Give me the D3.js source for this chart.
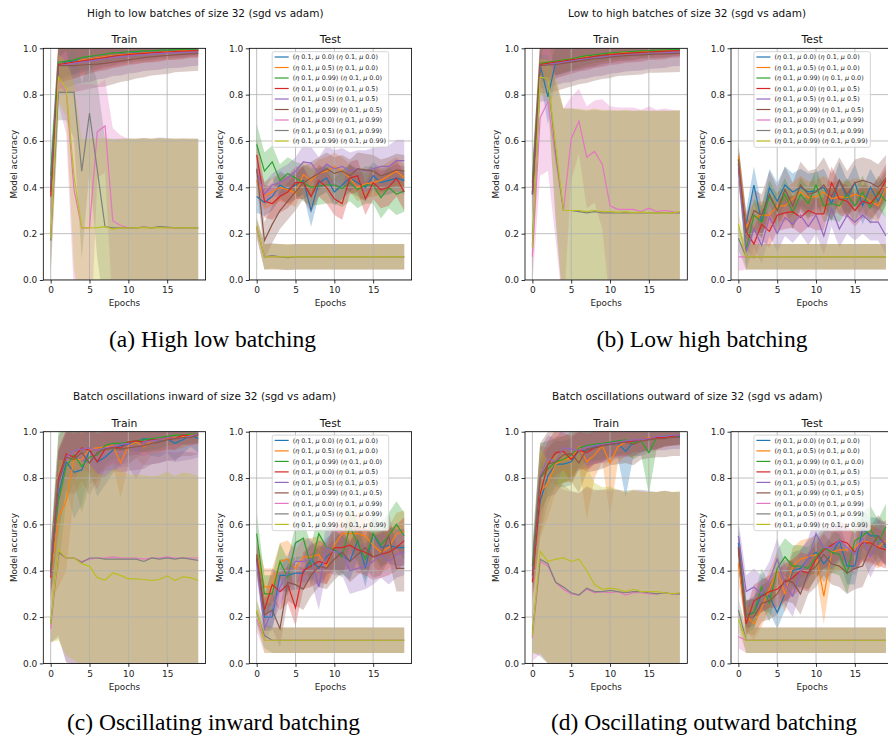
<!DOCTYPE html>
<html>
<head>
<meta charset="utf-8">
<script src="https://cdn.jsdelivr.net/npm/d3@7"></script>
<style>
  body { margin: 0; background: #fff; }
  text { font-family: "DejaVu Sans", sans-serif; }
</style>
</head>
<body>
<svg id="chart" width="888" height="738"></svg>
<script>
// ---- data ----
const epochs = [0,1,2,3,4,5,6,7,8,9,10,11,12,13,14,15,16,17,18,19];
const xTicks = [0, 5, 10, 15];
const yTicks = [0, 0.2, 0.4, 0.6, 0.8, 1.0];
const colors = ['#1f77b4','#ff7f0e','#2ca02c','#d62728','#9467bd','#8c564b','#e377c2','#7f7f7f','#bcbd22'];
const learningRate = '0.1';
const legendMomenta = [['0.0','0.0'],['0.5','0.0'],['0.99','0.0'],['0.0','0.5'],['0.5','0.5'],['0.99','0.5'],['0.0','0.99'],['0.5','0.99'],['0.99','0.99']];
const suptitles = ['High to low batches of size 32 (sgd vs adam)', 'Low to high batches of size 32 (sgd vs adam)',
  'Batch oscillations inward of size 32 (sgd vs adam)', 'Batch oscillations outward of size 32 (sgd vs adam)'];
const captions = ['(a) High low batching', '(b) Low high batching', '(c) Oscillating inward batching', '(d) Oscillating outward batching'];

// (a) high -> low
const hlTrainMean = [
  [0.40,0.93,0.94,0.945,0.95,0.955,0.96,0.965,0.97,0.975,0.978,0.98,0.982,0.984,0.986,0.988,0.99,0.99,0.992,0.993],
  [0.38,0.93,0.935,0.94,0.95,0.955,0.96,0.965,0.97,0.973,0.976,0.978,0.98,0.982,0.984,0.986,0.988,0.99,0.99,0.992],
  [0.45,0.94,0.945,0.95,0.96,0.965,0.97,0.975,0.98,0.982,0.985,0.987,0.989,0.99,0.992,0.993,0.994,0.995,0.996,0.997],
  [0.36,0.93,0.935,0.94,0.945,0.95,0.955,0.96,0.965,0.97,0.973,0.976,0.978,0.98,0.982,0.984,0.986,0.988,0.989,0.99],
  [0.40,0.925,0.93,0.935,0.94,0.945,0.95,0.955,0.96,0.963,0.966,0.97,0.972,0.975,0.977,0.979,0.98,0.982,0.983,0.985],
  [0.38,0.925,0.925,0.925,0.928,0.93,0.932,0.935,0.94,0.945,0.95,0.955,0.96,0.963,0.966,0.969,0.972,0.974,0.976,0.978],
  [0.20,0.86,0.81,0.39,0.225,0.225,0.64,0.665,0.255,0.235,0.225,0.225,0.228,0.225,0.228,0.225,0.225,0.226,0.225,0.225],
  [0.17,0.81,0.81,0.81,0.47,0.72,0.475,0.23,0.225,0.225,0.226,0.225,0.228,0.225,0.23,0.228,0.225,0.226,0.225,0.225],
  [0.18,0.875,0.825,0.45,0.225,0.225,0.226,0.23,0.22,0.225,0.225,0.225,0.226,0.225,0.226,0.225,0.225,0.225,0.225,0.225]
];
const hlTrainStd = [
  [0.08,0.07,0.065,0.06,0.055,0.05,0.05,0.045,0.045,0.04,0.04,0.035,0.035,0.035,0.03,0.03,0.03,0.03,0.025,0.025],
  [0.09,0.08,0.075,0.07,0.065,0.06,0.055,0.05,0.05,0.045,0.045,0.04,0.04,0.04,0.035,0.035,0.035,0.03,0.03,0.03],
  [0.1,0.07,0.065,0.06,0.055,0.05,0.045,0.04,0.035,0.035,0.03,0.03,0.03,0.025,0.025,0.025,0.02,0.02,0.02,0.02],
  [0.09,0.08,0.075,0.07,0.065,0.06,0.055,0.055,0.05,0.05,0.045,0.045,0.04,0.04,0.04,0.035,0.035,0.035,0.03,0.03],
  [0.1,0.1,0.1,0.095,0.09,0.09,0.085,0.085,0.08,0.08,0.075,0.075,0.07,0.07,0.07,0.065,0.065,0.065,0.06,0.06],
  [0.1,0.12,0.12,0.115,0.11,0.105,0.1,0.1,0.095,0.09,0.09,0.085,0.085,0.08,0.08,0.08,0.075,0.075,0.075,0.075],
  [0.15,0.1,0.18,0.45,0.62,0.62,0.2,0.2,0.4,0.39,0.385,0.385,0.385,0.385,0.385,0.385,0.385,0.385,0.385,0.385],
  [0.15,0.12,0.12,0.2,0.38,0.25,0.38,0.38,0.385,0.385,0.385,0.385,0.385,0.385,0.385,0.385,0.385,0.385,0.385,0.385],
  [0.15,0.1,0.12,0.4,0.385,0.385,0.385,0.385,0.385,0.385,0.385,0.385,0.385,0.385,0.385,0.385,0.385,0.385,0.385,0.385]
];
const hlTestMean = [
  [0.36,0.335,0.36,0.41,0.39,0.41,0.43,0.30,0.42,0.44,0.38,0.41,0.44,0.42,0.40,0.45,0.42,0.43,0.44,0.43],
  [0.43,0.365,0.38,0.40,0.39,0.375,0.455,0.43,0.46,0.47,0.49,0.47,0.44,0.40,0.415,0.42,0.43,0.45,0.47,0.44],
  [0.585,0.47,0.51,0.43,0.46,0.44,0.42,0.40,0.405,0.41,0.41,0.395,0.42,0.39,0.41,0.41,0.355,0.40,0.37,0.385],
  [0.54,0.34,0.33,0.36,0.38,0.42,0.42,0.36,0.43,0.40,0.35,0.33,0.44,0.45,0.35,0.42,0.39,0.40,0.44,0.38],
  [0.47,0.37,0.41,0.42,0.44,0.47,0.51,0.505,0.46,0.50,0.48,0.49,0.47,0.48,0.47,0.48,0.49,0.49,0.515,0.515],
  [0.48,0.17,0.24,0.30,0.34,0.38,0.42,0.44,0.46,0.48,0.46,0.47,0.45,0.48,0.475,0.47,0.45,0.46,0.475,0.47],
  [0.22,0.10,0.10,0.10,0.098,0.10,0.10,0.10,0.10,0.10,0.10,0.10,0.10,0.10,0.10,0.10,0.10,0.10,0.10,0.10],
  [0.23,0.10,0.105,0.10,0.097,0.10,0.10,0.10,0.10,0.10,0.10,0.10,0.10,0.10,0.10,0.10,0.10,0.10,0.10,0.10],
  [0.23,0.10,0.10,0.10,0.10,0.10,0.10,0.10,0.10,0.10,0.10,0.10,0.10,0.10,0.10,0.10,0.10,0.10,0.10,0.10]
];
const hlTestStd = [
  [0.07,0.06,0.06,0.06,0.06,0.06,0.06,0.07,0.06,0.06,0.06,0.06,0.06,0.06,0.06,0.06,0.06,0.06,0.06,0.06],
  [0.06,0.06,0.06,0.06,0.06,0.06,0.06,0.06,0.06,0.06,0.06,0.06,0.06,0.06,0.06,0.06,0.06,0.06,0.06,0.06],
  [0.09,0.08,0.07,0.07,0.07,0.07,0.08,0.08,0.08,0.08,0.08,0.08,0.08,0.08,0.08,0.08,0.09,0.09,0.09,0.09],
  [0.07,0.07,0.07,0.07,0.07,0.07,0.07,0.07,0.07,0.07,0.07,0.07,0.07,0.07,0.07,0.07,0.08,0.08,0.08,0.08],
  [0.05,0.05,0.05,0.06,0.06,0.06,0.07,0.07,0.07,0.08,0.08,0.08,0.08,0.08,0.09,0.09,0.09,0.09,0.09,0.09],
  [0.06,0.08,0.08,0.08,0.08,0.08,0.07,0.07,0.07,0.07,0.07,0.07,0.07,0.07,0.07,0.07,0.07,0.07,0.07,0.07],
  [0.04,0.055,0.055,0.055,0.055,0.055,0.055,0.055,0.055,0.055,0.055,0.055,0.055,0.055,0.055,0.055,0.055,0.055,0.055,0.055],
  [0.04,0.055,0.055,0.055,0.055,0.055,0.055,0.055,0.055,0.055,0.055,0.055,0.055,0.055,0.055,0.055,0.055,0.055,0.055,0.055],
  [0.04,0.055,0.055,0.055,0.055,0.055,0.055,0.055,0.055,0.055,0.055,0.055,0.055,0.055,0.055,0.055,0.055,0.055,0.055,0.055]
];

// (b) low -> high
const lhTrainMean = [
  [0.38,0.93,0.79,0.94,0.945,0.95,0.955,0.96,0.965,0.97,0.975,0.978,0.98,0.982,0.984,0.986,0.988,0.99,0.99,0.992],
  [0.40,0.935,0.94,0.945,0.95,0.955,0.96,0.965,0.97,0.975,0.978,0.98,0.982,0.984,0.986,0.988,0.99,0.99,0.992,0.993],
  [0.42,0.935,0.94,0.945,0.95,0.955,0.962,0.968,0.972,0.976,0.98,0.983,0.985,0.987,0.989,0.99,0.992,0.993,0.994,0.995],
  [0.37,0.93,0.935,0.94,0.945,0.95,0.955,0.96,0.965,0.97,0.973,0.976,0.978,0.98,0.982,0.984,0.986,0.988,0.989,0.99],
  [0.37,0.925,0.93,0.935,0.94,0.945,0.95,0.955,0.958,0.962,0.965,0.968,0.97,0.972,0.974,0.976,0.978,0.98,0.982,0.984],
  [0.37,0.925,0.928,0.93,0.935,0.94,0.945,0.95,0.955,0.958,0.962,0.965,0.968,0.97,0.972,0.974,0.975,0.976,0.977,0.978],
  [0.10,0.70,0.77,0.52,0.30,0.61,0.685,0.53,0.555,0.50,0.32,0.305,0.305,0.305,0.295,0.31,0.295,0.30,0.295,0.29],
  [0.15,0.87,0.87,0.55,0.30,0.30,0.295,0.29,0.295,0.29,0.29,0.29,0.29,0.29,0.29,0.29,0.29,0.29,0.29,0.29],
  [0.14,0.875,0.87,0.58,0.30,0.30,0.30,0.295,0.30,0.295,0.295,0.292,0.295,0.29,0.293,0.29,0.29,0.29,0.29,0.295]
];
const lhTrainStd = [
  [0.08,0.06,0.12,0.06,0.055,0.05,0.05,0.045,0.045,0.04,0.04,0.035,0.035,0.035,0.03,0.03,0.03,0.03,0.025,0.025],
  [0.08,0.07,0.065,0.06,0.055,0.05,0.05,0.045,0.045,0.04,0.04,0.035,0.035,0.035,0.03,0.03,0.03,0.03,0.025,0.025],
  [0.1,0.07,0.065,0.06,0.055,0.05,0.045,0.04,0.035,0.035,0.03,0.03,0.03,0.025,0.025,0.025,0.02,0.02,0.02,0.02],
  [0.09,0.08,0.075,0.07,0.065,0.06,0.055,0.055,0.05,0.05,0.045,0.045,0.04,0.04,0.04,0.035,0.035,0.035,0.03,0.03],
  [0.1,0.1,0.1,0.095,0.09,0.09,0.085,0.085,0.08,0.08,0.075,0.075,0.07,0.07,0.07,0.065,0.065,0.065,0.06,0.06],
  [0.1,0.12,0.12,0.115,0.11,0.105,0.1,0.1,0.095,0.09,0.09,0.085,0.085,0.085,0.085,0.08,0.08,0.08,0.08,0.08],
  [0.12,0.25,0.3,0.35,0.44,0.18,0.14,0.22,0.22,0.28,0.43,0.44,0.44,0.44,0.44,0.44,0.44,0.44,0.44,0.44],
  [0.1,0.1,0.1,0.3,0.44,0.44,0.44,0.44,0.44,0.44,0.44,0.44,0.44,0.44,0.44,0.44,0.44,0.44,0.44,0.44],
  [0.1,0.08,0.08,0.3,0.44,0.44,0.44,0.44,0.44,0.44,0.44,0.44,0.44,0.44,0.44,0.44,0.44,0.44,0.44,0.44]
];
const lhTestMean = [
  [0.50,0.24,0.41,0.25,0.40,0.34,0.41,0.38,0.40,0.38,0.385,0.40,0.33,0.43,0.35,0.42,0.32,0.40,0.34,0.40],
  [0.535,0.23,0.27,0.28,0.28,0.32,0.32,0.35,0.38,0.355,0.36,0.38,0.35,0.36,0.355,0.37,0.36,0.34,0.32,0.40],
  [0.52,0.13,0.28,0.25,0.36,0.30,0.37,0.29,0.37,0.33,0.41,0.32,0.33,0.32,0.37,0.32,0.38,0.31,0.38,0.34],
  [0.48,0.21,0.155,0.24,0.21,0.28,0.29,0.295,0.27,0.30,0.285,0.285,0.42,0.35,0.34,0.30,0.34,0.33,0.37,0.43],
  [0.50,0.12,0.22,0.15,0.27,0.20,0.27,0.24,0.28,0.23,0.28,0.19,0.31,0.22,0.28,0.25,0.28,0.25,0.25,0.19],
  [0.52,0.20,0.30,0.28,0.37,0.30,0.39,0.32,0.41,0.37,0.38,0.41,0.36,0.43,0.37,0.42,0.43,0.42,0.40,0.44],
  [0.10,0.10,0.10,0.10,0.10,0.10,0.10,0.10,0.10,0.10,0.10,0.10,0.10,0.10,0.10,0.10,0.10,0.10,0.10,0.10],
  [0.18,0.10,0.10,0.10,0.10,0.10,0.10,0.10,0.10,0.10,0.10,0.10,0.10,0.10,0.10,0.10,0.10,0.10,0.10,0.10],
  [0.24,0.10,0.10,0.10,0.10,0.10,0.10,0.10,0.10,0.10,0.10,0.10,0.10,0.10,0.10,0.10,0.10,0.10,0.10,0.10]
];
const lhTestStd = [
  [0.08,0.06,0.08,0.07,0.08,0.08,0.08,0.08,0.08,0.08,0.08,0.08,0.08,0.08,0.08,0.08,0.08,0.08,0.08,0.08],
  [0.06,0.06,0.06,0.06,0.06,0.06,0.07,0.07,0.07,0.07,0.07,0.07,0.07,0.07,0.07,0.07,0.07,0.07,0.07,0.07],
  [0.07,0.07,0.07,0.07,0.07,0.07,0.07,0.07,0.07,0.07,0.07,0.07,0.07,0.07,0.07,0.07,0.07,0.07,0.07,0.07],
  [0.07,0.07,0.07,0.07,0.07,0.07,0.07,0.07,0.07,0.07,0.07,0.07,0.07,0.07,0.07,0.07,0.07,0.07,0.07,0.07],
  [0.06,0.08,0.08,0.08,0.08,0.08,0.08,0.08,0.08,0.08,0.08,0.08,0.08,0.08,0.08,0.08,0.08,0.08,0.08,0.08],
  [0.06,0.08,0.09,0.09,0.1,0.1,0.1,0.1,0.1,0.1,0.1,0.12,0.1,0.1,0.1,0.1,0.1,0.1,0.1,0.1],
  [0.06,0.055,0.055,0.055,0.055,0.055,0.055,0.055,0.055,0.055,0.055,0.055,0.055,0.055,0.055,0.055,0.055,0.055,0.055,0.055],
  [0.05,0.055,0.055,0.055,0.055,0.055,0.055,0.055,0.055,0.055,0.055,0.055,0.055,0.055,0.055,0.055,0.055,0.055,0.055,0.055],
  [0.05,0.055,0.055,0.055,0.055,0.055,0.055,0.055,0.055,0.055,0.055,0.055,0.055,0.055,0.055,0.055,0.055,0.055,0.055,0.055]
];

// (c) oscillating inward
const inTrainMean = [
  [0.40,0.73,0.87,0.825,0.835,0.92,0.87,0.89,0.92,0.94,0.945,0.955,0.97,0.965,0.96,0.97,0.95,0.965,0.985,0.97],
  [0.37,0.63,0.70,0.88,0.88,0.925,0.93,0.935,0.94,0.865,0.94,0.955,0.935,0.96,0.965,0.97,0.975,0.98,0.985,0.985],
  [0.42,0.70,0.85,0.90,0.85,0.89,0.90,0.94,0.95,0.95,0.955,0.96,0.965,0.97,0.975,0.98,0.985,0.985,0.99,0.99],
  [0.37,0.80,0.905,0.89,0.93,0.92,0.87,0.925,0.935,0.93,0.955,0.96,0.955,0.965,0.965,0.975,0.97,0.985,0.98,0.99],
  [0.38,0.77,0.89,0.92,0.925,0.93,0.92,0.93,0.935,0.945,0.95,0.915,0.955,0.96,0.965,0.975,0.97,0.975,0.98,0.99],
  [0.39,0.78,0.89,0.88,0.91,0.865,0.91,0.925,0.93,0.925,0.93,0.935,0.94,0.95,0.955,0.965,0.97,0.975,0.975,0.985],
  [0.15,0.48,0.455,0.455,0.44,0.45,0.455,0.455,0.46,0.455,0.455,0.455,0.45,0.455,0.455,0.46,0.455,0.455,0.455,0.455],
  [0.17,0.48,0.455,0.455,0.435,0.455,0.455,0.45,0.45,0.45,0.45,0.45,0.44,0.455,0.45,0.455,0.45,0.455,0.45,0.445],
  [0.17,0.49,0.455,0.455,0.43,0.42,0.37,0.36,0.39,0.38,0.365,0.365,0.362,0.358,0.362,0.378,0.358,0.374,0.37,0.358]
];
const inTrainStd = [
  [0.1,0.18,0.12,0.2,0.15,0.1,0.15,0.12,0.1,0.08,0.08,0.07,0.06,0.07,0.07,0.06,0.08,0.06,0.05,0.06],
  [0.1,0.3,0.3,0.15,0.12,0.1,0.1,0.1,0.08,0.15,0.08,0.07,0.08,0.06,0.06,0.05,0.05,0.05,0.04,0.04],
  [0.1,0.3,0.15,0.12,0.2,0.12,0.1,0.08,0.07,0.07,0.06,0.06,0.05,0.05,0.05,0.04,0.04,0.04,0.04,0.04],
  [0.1,0.12,0.1,0.1,0.08,0.1,0.12,0.08,0.07,0.08,0.06,0.06,0.06,0.05,0.05,0.05,0.05,0.04,0.04,0.04],
  [0.1,0.15,0.12,0.1,0.1,0.1,0.1,0.1,0.1,0.1,0.1,0.12,0.1,0.1,0.1,0.1,0.1,0.1,0.1,0.1],
  [0.1,0.2,0.15,0.15,0.12,0.14,0.12,0.12,0.1,0.1,0.1,0.1,0.1,0.09,0.09,0.09,0.09,0.08,0.08,0.08],
  [0.06,0.36,0.45,0.46,0.46,0.46,0.46,0.46,0.46,0.46,0.46,0.46,0.46,0.46,0.46,0.46,0.46,0.46,0.46,0.46],
  [0.08,0.37,0.45,0.46,0.46,0.46,0.46,0.46,0.46,0.46,0.46,0.46,0.46,0.46,0.46,0.46,0.46,0.46,0.46,0.46],
  [0.08,0.39,0.42,0.44,0.44,0.44,0.45,0.45,0.45,0.45,0.45,0.45,0.45,0.45,0.45,0.45,0.45,0.45,0.45,0.45]
];
const inTestMean = [
  [0.46,0.20,0.20,0.38,0.38,0.39,0.39,0.45,0.41,0.46,0.49,0.47,0.44,0.53,0.41,0.56,0.50,0.51,0.50,0.50],
  [0.47,0.33,0.33,0.44,0.45,0.41,0.46,0.46,0.47,0.42,0.51,0.56,0.56,0.56,0.55,0.51,0.48,0.50,0.56,0.57],
  [0.56,0.30,0.30,0.44,0.37,0.52,0.54,0.42,0.56,0.50,0.49,0.46,0.59,0.52,0.45,0.56,0.51,0.55,0.60,0.55],
  [0.45,0.23,0.34,0.31,0.34,0.24,0.40,0.42,0.44,0.43,0.50,0.50,0.51,0.49,0.48,0.46,0.47,0.48,0.50,0.53],
  [0.44,0.15,0.23,0.33,0.39,0.44,0.44,0.45,0.33,0.50,0.48,0.48,0.40,0.41,0.42,0.44,0.47,0.44,0.47,0.48],
  [0.47,0.21,0.23,0.15,0.35,0.34,0.32,0.38,0.42,0.41,0.45,0.48,0.44,0.47,0.50,0.46,0.47,0.55,0.41,0.41],
  [0.19,0.10,0.10,0.10,0.10,0.10,0.10,0.10,0.10,0.10,0.10,0.10,0.10,0.10,0.10,0.10,0.10,0.10,0.10,0.10],
  [0.22,0.12,0.10,0.10,0.10,0.10,0.10,0.10,0.10,0.10,0.10,0.10,0.10,0.10,0.10,0.10,0.10,0.10,0.10,0.10],
  [0.23,0.10,0.10,0.10,0.10,0.10,0.10,0.10,0.10,0.10,0.10,0.10,0.10,0.10,0.10,0.10,0.10,0.10,0.10,0.10]
];
const inTestStd = [
  [0.07,0.06,0.06,0.07,0.07,0.07,0.07,0.08,0.08,0.08,0.08,0.08,0.08,0.08,0.08,0.08,0.08,0.08,0.08,0.08],
  [0.07,0.08,0.08,0.08,0.08,0.08,0.08,0.08,0.08,0.08,0.08,0.09,0.09,0.09,0.09,0.09,0.09,0.09,0.09,0.09],
  [0.09,0.08,0.08,0.08,0.08,0.08,0.08,0.09,0.09,0.09,0.09,0.09,0.09,0.09,0.09,0.1,0.1,0.1,0.1,0.1],
  [0.07,0.06,0.07,0.08,0.08,0.08,0.08,0.09,0.09,0.09,0.1,0.1,0.1,0.1,0.1,0.1,0.1,0.1,0.1,0.1],
  [0.06,0.06,0.07,0.08,0.08,0.09,0.09,0.09,0.1,0.1,0.1,0.1,0.1,0.1,0.1,0.1,0.1,0.1,0.1,0.1],
  [0.06,0.07,0.08,0.08,0.08,0.09,0.09,0.09,0.09,0.09,0.09,0.09,0.09,0.09,0.09,0.09,0.09,0.1,0.1,0.1],
  [0.05,0.055,0.055,0.055,0.055,0.055,0.055,0.055,0.055,0.055,0.055,0.055,0.055,0.055,0.055,0.055,0.055,0.055,0.055,0.055],
  [0.05,0.055,0.055,0.055,0.055,0.055,0.055,0.055,0.055,0.055,0.055,0.055,0.055,0.055,0.055,0.055,0.055,0.055,0.055,0.055],
  [0.05,0.055,0.055,0.055,0.055,0.055,0.055,0.055,0.055,0.055,0.055,0.055,0.055,0.055,0.055,0.055,0.055,0.055,0.055,0.055]
];

// (d) oscillating outward
const outTrainMean = [
  [0.38,0.70,0.81,0.86,0.86,0.87,0.92,0.92,0.935,0.94,0.945,0.95,0.915,0.955,0.96,0.97,0.975,0.975,0.98,0.98],
  [0.36,0.74,0.78,0.86,0.88,0.885,0.935,0.87,0.90,0.94,0.865,0.935,0.955,0.95,0.96,0.975,0.97,0.975,0.98,0.985],
  [0.42,0.80,0.84,0.87,0.88,0.90,0.93,0.94,0.945,0.95,0.955,0.96,0.965,0.95,0.96,0.91,0.975,0.98,0.98,0.985],
  [0.35,0.73,0.86,0.91,0.915,0.88,0.92,0.91,0.93,0.94,0.95,0.955,0.955,0.96,0.965,0.97,0.975,0.975,0.98,0.985],
  [0.37,0.81,0.885,0.87,0.93,0.925,0.92,0.935,0.94,0.945,0.95,0.955,0.96,0.965,0.965,0.97,0.98,0.98,0.985,0.985],
  [0.38,0.80,0.86,0.87,0.90,0.905,0.865,0.925,0.93,0.94,0.945,0.95,0.955,0.945,0.96,0.965,0.97,0.97,0.975,0.975],
  [0.11,0.44,0.42,0.35,0.32,0.30,0.295,0.32,0.305,0.31,0.305,0.31,0.295,0.305,0.305,0.30,0.30,0.305,0.30,0.30],
  [0.13,0.45,0.43,0.35,0.33,0.305,0.295,0.325,0.31,0.31,0.315,0.31,0.305,0.31,0.31,0.305,0.30,0.305,0.30,0.30],
  [0.12,0.485,0.44,0.45,0.455,0.44,0.45,0.40,0.34,0.32,0.325,0.32,0.31,0.32,0.31,0.31,0.31,0.305,0.30,0.305]
];
const outTrainStd = [
  [0.1,0.15,0.12,0.1,0.1,0.1,0.08,0.08,0.07,0.07,0.06,0.06,0.2,0.06,0.05,0.05,0.05,0.04,0.04,0.04],
  [0.1,0.2,0.15,0.12,0.1,0.1,0.08,0.25,0.1,0.07,0.23,0.07,0.06,0.06,0.05,0.05,0.05,0.04,0.04,0.04],
  [0.1,0.15,0.12,0.1,0.1,0.1,0.08,0.07,0.07,0.07,0.06,0.06,0.06,0.07,0.06,0.18,0.05,0.04,0.04,0.04],
  [0.1,0.15,0.1,0.1,0.08,0.1,0.08,0.08,0.07,0.07,0.06,0.06,0.06,0.05,0.05,0.05,0.05,0.04,0.04,0.04],
  [0.1,0.12,0.1,0.1,0.09,0.09,0.09,0.08,0.08,0.08,0.08,0.07,0.07,0.07,0.07,0.06,0.06,0.06,0.06,0.06],
  [0.1,0.15,0.14,0.14,0.12,0.12,0.13,0.1,0.1,0.1,0.09,0.09,0.09,0.09,0.08,0.08,0.08,0.08,0.08,0.08],
  [0.1,0.4,0.42,0.42,0.43,0.44,0.44,0.44,0.44,0.44,0.44,0.44,0.44,0.44,0.44,0.44,0.44,0.44,0.44,0.44],
  [0.08,0.42,0.43,0.43,0.44,0.44,0.44,0.44,0.44,0.44,0.44,0.44,0.44,0.44,0.44,0.44,0.44,0.44,0.44,0.44],
  [0.08,0.44,0.44,0.45,0.46,0.45,0.46,0.45,0.44,0.44,0.44,0.43,0.43,0.43,0.43,0.43,0.43,0.44,0.44,0.44]
];
const outTestMean = [
  [0.52,0.21,0.22,0.30,0.29,0.22,0.30,0.40,0.41,0.45,0.48,0.43,0.47,0.53,0.42,0.42,0.58,0.55,0.55,0.50],
  [0.43,0.21,0.17,0.24,0.32,0.40,0.30,0.42,0.45,0.46,0.47,0.29,0.48,0.49,0.49,0.50,0.53,0.52,0.50,0.53],
  [0.50,0.20,0.22,0.33,0.26,0.41,0.46,0.42,0.42,0.41,0.46,0.50,0.48,0.47,0.39,0.53,0.55,0.58,0.52,0.59],
  [0.50,0.17,0.27,0.29,0.31,0.32,0.35,0.37,0.40,0.39,0.45,0.49,0.51,0.53,0.52,0.48,0.52,0.52,0.50,0.49],
  [0.55,0.31,0.33,0.30,0.36,0.45,0.34,0.29,0.40,0.45,0.56,0.50,0.50,0.53,0.50,0.47,0.54,0.46,0.53,0.52],
  [0.49,0.20,0.20,0.26,0.27,0.30,0.36,0.35,0.30,0.39,0.42,0.47,0.43,0.42,0.39,0.41,0.42,0.50,0.55,0.51],
  [0.115,0.10,0.10,0.10,0.10,0.10,0.10,0.10,0.10,0.10,0.10,0.10,0.10,0.10,0.10,0.10,0.10,0.10,0.10,0.10],
  [0.23,0.10,0.10,0.10,0.10,0.10,0.10,0.10,0.10,0.10,0.10,0.10,0.10,0.10,0.10,0.10,0.10,0.10,0.10,0.10],
  [0.19,0.10,0.10,0.10,0.10,0.10,0.10,0.10,0.10,0.10,0.10,0.10,0.10,0.10,0.10,0.10,0.10,0.10,0.10,0.10]
];
const outTestStd = [
  [0.08,0.06,0.06,0.07,0.07,0.07,0.07,0.08,0.08,0.08,0.08,0.08,0.08,0.08,0.08,0.08,0.08,0.08,0.08,0.08],
  [0.08,0.07,0.07,0.08,0.08,0.08,0.08,0.08,0.08,0.08,0.08,0.12,0.09,0.09,0.09,0.09,0.09,0.09,0.09,0.09],
  [0.08,0.07,0.07,0.08,0.08,0.08,0.08,0.09,0.09,0.09,0.09,0.09,0.09,0.09,0.09,0.1,0.1,0.1,0.1,0.1],
  [0.07,0.06,0.07,0.07,0.07,0.08,0.08,0.08,0.08,0.08,0.08,0.08,0.08,0.08,0.08,0.08,0.08,0.08,0.08,0.08],
  [0.07,0.07,0.08,0.08,0.08,0.09,0.09,0.09,0.09,0.09,0.09,0.09,0.09,0.09,0.09,0.09,0.09,0.09,0.09,0.09],
  [0.07,0.07,0.08,0.08,0.08,0.09,0.09,0.09,0.09,0.09,0.09,0.09,0.09,0.09,0.09,0.09,0.09,0.09,0.09,0.09],
  [0.05,0.055,0.055,0.055,0.055,0.055,0.055,0.055,0.055,0.055,0.055,0.055,0.055,0.055,0.055,0.055,0.055,0.055,0.055,0.055],
  [0.05,0.055,0.055,0.055,0.055,0.055,0.055,0.055,0.055,0.055,0.055,0.055,0.055,0.055,0.055,0.055,0.055,0.055,0.055,0.055],
  [0.05,0.055,0.055,0.055,0.055,0.055,0.055,0.055,0.055,0.055,0.055,0.055,0.055,0.055,0.055,0.055,0.055,0.055,0.055,0.055]
];

// ---- layout ----
const svg = d3.select('#chart');
const W = 162.3, H = 231.7;

const figures = [
  { trainLeft: 43.3, testLeft: 249.3, top: 48.3, train: [hlTrainMean, hlTrainStd], test: [hlTestMean, hlTestStd],
    supX: 87, supY: 17, capX: 212.5, capY: 347 },
  { trainLeft: 525, testLeft: 731, top: 48.3, train: [lhTrainMean, lhTrainStd], test: [lhTestMean, lhTestStd],
    supX: 568, supY: 17, capX: 702, capY: 347 },
  { trainLeft: 43.3, testLeft: 249.3, top: 431.7, train: [inTrainMean, inTrainStd], test: [inTestMean, inTestStd],
    supX: 73, supY: 400, capX: 213.5, capY: 730 },
  { trainLeft: 525, testLeft: 731, top: 431.7, train: [outTrainMean, outTrainStd], test: [outTestMean, outTestStd],
    supX: 552, supY: 400, capX: 704, capY: 730 }
];

let clipCount = 0;

function drawAxes(left, top, mean, std, title, withLegend) {
  const x = d3.scaleLinear().domain([-0.95, 19.95]).range([0, W]);
  const y = d3.scaleLinear().domain([0, 1]).range([H, 0]);
  const g = svg.append('g').attr('transform', `translate(${left},${top})`);

  const clipId = 'clip' + (clipCount++);
  g.append('clipPath').attr('id', clipId)
    .append('rect').attr('width', W).attr('height', H);

  const plot = g.append('g').attr('clip-path', `url(#${clipId})`);

  // std bands
  const band = d3.area()
    .x((d, i) => x(epochs[i]))
    .y0(d => y(d[0] - d[1]))
    .y1(d => y(d[0] + d[1]));
  plot.append('g').selectAll('path')
    .data(mean.map((m, k) => m.map((v, i) => [v, std[k][i]])))
    .enter()
    .append('path')
    .attr('d', band)
    .attr('fill', (d, k) => colors[k])
    .attr('fill-opacity', 0.3)
    .attr('stroke', 'none');

  // grid
  const grid = plot.append('g').attr('stroke', '#b0b0b0').attr('stroke-width', 0.8);
  grid.selectAll('.gx').data(xTicks).enter().append('line')
    .attr('x1', d => x(d)).attr('x2', d => x(d)).attr('y1', 0).attr('y2', H);
  grid.selectAll('.gy').data(yTicks).enter().append('line')
    .attr('x1', 0).attr('x2', W).attr('y1', d => y(d)).attr('y2', d => y(d));

  // mean lines
  const line = d3.line().x((d, i) => x(epochs[i])).y(d => y(d));
  plot.append('g').selectAll('path')
    .data(mean)
    .enter()
    .append('path')
    .attr('d', line)
    .attr('fill', 'none')
    .attr('stroke', (d, k) => colors[k])
    .attr('stroke-width', 1.2);

  // axes
  const xAxis = g.append('g').attr('transform', `translate(0,${H})`)
    .call(d3.axisBottom(x).tickValues(xTicks).tickSize(3.5).tickPadding(3.5));
  const yAxis = g.append('g')
    .call(d3.axisLeft(y).tickValues(yTicks).tickFormat(d3.format('.1f')).tickSize(3.5).tickPadding(2.5));
  [xAxis, yAxis].forEach(a => {
    a.select('.domain').remove();
    a.attr('font-size', 9).attr('font-family', 'DejaVu Sans');
    a.selectAll('line').attr('stroke', '#000').attr('stroke-width', 0.8);
    a.selectAll('text').attr('fill', '#222');
  });

  g.append('rect').attr('width', W).attr('height', H)
    .attr('fill', 'none').attr('stroke', '#000').attr('stroke-width', 0.8);

  g.append('text').attr('x', W / 2).attr('y', -5)
    .attr('text-anchor', 'middle').attr('font-size', 10.8).attr('fill', '#111').text(title);
  g.append('text').attr('x', W / 2).attr('y', H + 26.3)
    .attr('text-anchor', 'middle').attr('font-size', 8.8).attr('fill', '#222').text('Epochs');
  g.append('text').attr('transform', `translate(-26.5,${H / 2}) rotate(-90)`)
    .attr('text-anchor', 'middle').attr('font-size', 8.8).attr('fill', '#222').text('Model accuracy');

  if (withLegend) {
    const lw = 116.5, lh = 95.6, rowH = 10.5;
    const lg = g.append('g').attr('transform', `translate(${(W - lw) / 2},3.4)`);
    lg.append('rect').attr('width', lw).attr('height', lh).attr('rx', 2)
      .attr('fill', '#fff').attr('fill-opacity', 0.8)
      .attr('stroke', '#ccc').attr('stroke-width', 0.8);
    const rows = lg.selectAll('.row').data(legendMomenta).enter().append('g')
      .attr('transform', (d, i) => `translate(0,${5.3 + i * rowH})`);
    rows.append('line').attr('x1', 2.5).attr('x2', 16.5).attr('y1', 0).attr('y2', 0)
      .attr('stroke', (d, i) => colors[i]).attr('stroke-width', 1.2);
    const t = rows.append('text').attr('x', 20.5).attr('y', 2.3)
      .attr('font-size', 6.4).attr('fill', '#222');
    t.each(function (d) {
      const s = d3.select(this);
      const parts = ['(', 'η', ` ${learningRate}, `, 'μ', ` ${d[0]}) (`, 'η', ` ${learningRate}, `, 'μ', ` ${d[1]})`];
      parts.forEach(p => {
        const ts = s.append('tspan').text(p);
        if (p === 'η' || p === 'μ') ts.attr('font-style', 'italic');
      });
    });
  }
}

figures.forEach((f, n) => {
  svg.append('text').attr('x', f.supX).attr('y', f.supY)
    .attr('font-size', 10.5).attr('fill', '#111').text(suptitles[n]);
  drawAxes(f.trainLeft, f.top, f.train[0], f.train[1], 'Train', false);
  drawAxes(f.testLeft, f.top, f.test[0], f.test[1], 'Test', true);
  svg.append('text').attr('x', f.capX).attr('y', f.capY)
    .attr('text-anchor', 'middle')
    .style('font-family', '"Liberation Serif", "Times New Roman", serif')
    .attr('font-size', 23.5).attr('fill', '#000').text(captions[n]);
});
</script>
</body>
</html>
